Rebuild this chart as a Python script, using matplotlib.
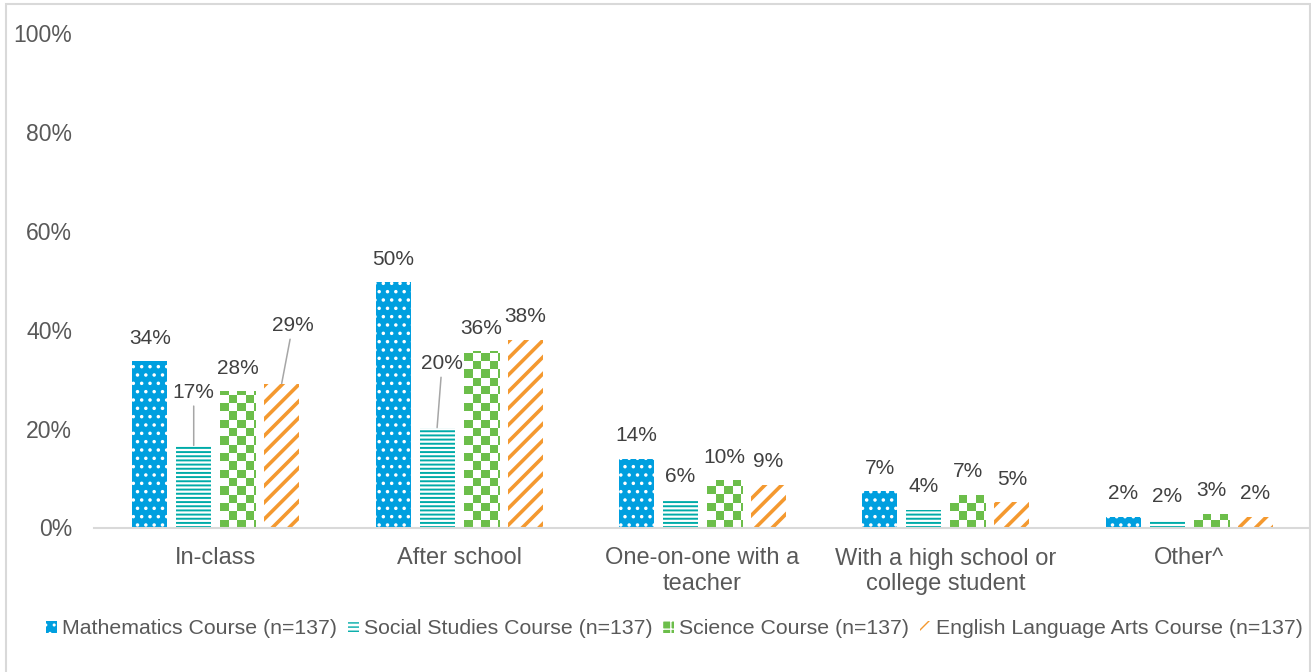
import numpy as np
import matplotlib
matplotlib.use('Agg')
import matplotlib.pyplot as plt
from matplotlib.colors import ListedColormap
from matplotlib.patches import Patch, Rectangle

plt.rcParams['font.family'] = ['Liberation Sans', 'DejaVu Sans']

categories = ['In-class', 'After school', 'One-on-one with a\nteacher',
              'With a high school or\ncollege student', 'Other^']
series = ['Mathematics Course (n=137)', 'Social Studies Course (n=137)',
          'Science Course (n=137)', 'English Language Arts Course (n=137)']
math = [33.6, 49.6, 13.9, 7.3, 2.2]
social = [16.6, 20.2, 5.6, 3.6, 1.6]
science = [27.6, 35.6, 9.6, 6.6, 2.8]
ela = [29.1, 38.0, 8.6, 5.1, 2.2]
yticks = [0, 20, 40, 60, 80, 100]

blue = '#009FDF'
teal = '#00ABA8'
green = '#6CBE4A'
orange = '#F4992F'

# labels that are moved away from their bar (pixel offsets) and get a leader line
leaders = {(1, 0): (0, 53), (3, 0): (11, 58), (1, 1): (5, 64)}

fig = plt.figure(figsize=(13.11, 6.72), dpi=100)
ax = fig.add_axes([94/1311, 1-527.5/672, 1217/1311, 494.5/672])

x = np.arange(len(categories))
width = 0.144
step = 0.1807
offs = (np.arange(4) - 1.5) * step


def hatch_lw(bars, lw):
    for b in bars:
        if hasattr(b, 'set_hatch_linewidth'):
            b.set_hatch_linewidth(lw)


with plt.rc_context({'hatch.linewidth': 1.3}):
    b_math = ax.bar(x + offs[0], math, width, color=blue, edgecolor='white',
                    lw=0, hatch='..')
hatch_lw(b_math, 1.3)
with plt.rc_context({'hatch.linewidth': 1.4}):
    b_soc = ax.bar(x + offs[1], social, width, color='white', edgecolor=teal,
                   lw=0, hatch='----')
hatch_lw(b_soc, 1.4)
b_sci = ax.bar(x + offs[2], science, width, color='white', lw=0)
with plt.rc_context({'hatch.linewidth': 2.6}):
    b_ela = ax.bar(x + offs[3], ela, width, color='white', edgecolor=orange,
                   lw=0, hatch='//')
hatch_lw(b_ela, 2.6)

# checkerboard fill for science bars
sx = 8.3 / 243.5
sy = 8.3 / 494.5 * 100
for b in b_sci:
    x0 = b.get_x()
    nc = int(np.ceil(b.get_width() / sx))
    nr = int(np.ceil(b.get_height() / sy))
    grid = np.add.outer(np.arange(nr), np.arange(nc)) % 2
    im = ax.imshow(grid, cmap=ListedColormap([green, 'white']),
                   extent=(x0, x0 + nc * sx, 0, nr * sy), origin='lower',
                   interpolation='nearest', aspect='auto', zorder=1.5)
    im.set_clip_path(b)

for i, (vals, bars) in enumerate(zip([math, social, science, ela],
                                     [b_math, b_soc, b_sci, b_ela])):
    for j, (v, b) in enumerate(zip(vals, bars)):
        xc = b.get_x() + b.get_width() / 2
        if (i, j) in leaders:
            dx, dy = leaders[(i, j)]
            arrow = dict(arrowstyle='-', color='#A6A6A6', lw=1.1,
                         shrinkA=1, shrinkB=0)
        else:
            dx, dy = 0, 23
            arrow = None
        ax.annotate(f'{v:.0f}%', xy=(xc, v), xytext=(dx * 0.72, dy * 0.72),
                    textcoords='offset points', ha='center', va='center',
                    fontsize=15, color='#404040', arrowprops=arrow)

ax.set_xlim(-0.5, 4.5)
ax.set_ylim(0, 100)
ax.set_xticks(x)
ax.set_xticklabels(categories, linespacing=1.22)
ax.set_yticks(yticks)
ax.set_yticklabels([f'{t}%' for t in yticks])
ax.tick_params(axis='y', length=0, pad=15.8, labelsize=16.6, labelcolor='#595959')
ax.tick_params(axis='x', length=0, pad=14.4, labelsize=17, labelcolor='#595959')
for s in ['top', 'right', 'left']:
    ax.spines[s].set_visible(False)
ax.spines['bottom'].set_color('#D9D9D9')
ax.spines['bottom'].set_linewidth(1.5)

handles = [
    Patch(facecolor=blue, edgecolor='white', hatch='..', lw=0),
    Patch(facecolor='white', edgecolor=teal, hatch='----', lw=0),
    Patch(facecolor=green, edgecolor='white', hatch='++', lw=0),
    Patch(facecolor='white', edgecolor=orange, hatch='//', lw=0),
]
fig.legend(handles, series, loc='center', bbox_to_anchor=(0.5145, 0.064),
           ncol=4, frameon=False, borderaxespad=0, fontsize=15.3,
           labelcolor='#595959', handlelength=0.52, handleheight=0.52,
           handletextpad=0.24, columnspacing=0.5)

fig.add_artist(Rectangle((6/1311, -0.05), 1304/1311, 1.05 - 4/672,
                         transform=fig.transFigure, fill=False,
                         edgecolor='#D9D9D9', lw=1.5))

plt.savefig('out.png', dpi=100)
